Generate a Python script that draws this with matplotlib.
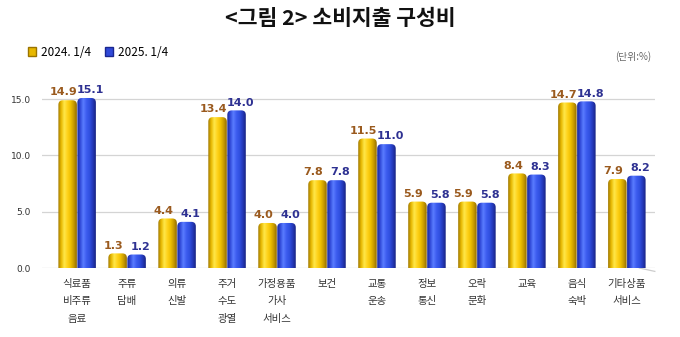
import numpy as np
import matplotlib
matplotlib.use('Agg')
import matplotlib.pyplot as plt
from matplotlib.patches import FancyBboxPatch, Patch
from matplotlib.colors import LinearSegmentedColormap

plt.rcParams['font.family'] = ['Noto Sans CJK KR', 'DejaVu Sans']

# data
categories = ['식료품\n비주류\n음료', '주류\n담배', '의류\n신발', '주거\n수도\n광열',
              '가정용품\n가사\n서비스', '보건', '교통\n운송', '정보\n통신',
              '오락\n문화', '교육', '음식\n숙박', '기타상품\n서비스']
q2024 = [14.9, 1.3, 4.4, 13.4, 4.0, 7.8, 11.5, 5.9, 5.9, 8.4, 14.7, 7.9]
q2025 = [15.1, 1.2, 4.1, 14.0, 4.0, 7.8, 11.0, 5.8, 5.8, 8.3, 14.8, 8.2]
series_names = ['2024. 1/4', '2025. 1/4']
yticks = [0, 5, 10, 15]

gold_cmap = LinearSegmentedColormap.from_list(
    'gold', ['#9a7400', '#e8b800', '#ffe84a', '#ffd21a', '#f0c000', '#c79a00', '#8f6a00'])
blue_cmap = LinearSegmentedColormap.from_list(
    'blue', ['#1a2790', '#3049d8', '#5a7dff', '#3d5cf0', '#3050e0', '#2438b8', '#17237f'])
label_colors = ['#9a5a1e', '#2e3192']

fig = plt.figure(figsize=(6.8, 3.37), dpi=100)
ax = fig.add_axes([0.062, 0.2047, 0.901, 0.558])
ax.set_xlim(-0.7, 11.56)
ax.set_ylim(0, 16.7)

w = 0.37
off = 0.19
aspect = (50 / 11.27)
grad = np.linspace(0, 1, 256).reshape(1, -1)

x = np.arange(len(categories))
for vals, dx, cmap, lc, lo in [(q2024, -off, gold_cmap, label_colors[0], -0.08),
                               (q2025, off, blue_cmap, label_colors[1], 0.08)]:
    for xi, v in zip(x, vals):
        left = xi + dx - w / 2
        patch = FancyBboxPatch((left, -1), w, v + 1,
                               boxstyle='round,pad=0,rounding_size=0.09',
                               mutation_aspect=aspect, facecolor='none',
                               edgecolor='none', zorder=3)
        ax.add_patch(patch)
        im = ax.imshow(grad, cmap=cmap, aspect='auto', extent=(left, left + w, -1, v),
                       zorder=3, interpolation='bilinear')
        im.set_clip_path(patch)
        ax.text(xi + dx + lo, v + 0.25, f'{v:.1f}', ha='center', va='bottom',
                fontsize=8, fontweight='bold', color=lc, family='DejaVu Sans')

for t in yticks:
    ax.axhline(t, color='#d4d4d4', lw=0.9, zorder=1)

# 3D floor edge at the right end of the base line
ax.plot([11.25, 11.56], [0, -0.3], color='#cccccc', lw=0.9, clip_on=False, zorder=1)

ax.set_yticks(yticks)
ax.set_yticklabels([f'{t:.1f}' for t in yticks], fontsize=6.5, color='#333333',
                   family='DejaVu Sans')
ax.set_xticks(x)
ax.set_xticklabels(categories, fontsize=7.5, color='#333333', linespacing=1.9, va='top')
ax.tick_params(axis='both', length=0)
ax.tick_params(axis='x', pad=8)
ax.tick_params(axis='y', pad=8)
for s in ax.spines.values():
    s.set_visible(False)

fig.text(0.5, 0.945, '<그림 2> 소비지출 구성비', ha='center', va='center',
         fontsize=15.5, fontweight='bold', color='#111111')
fig.text(0.957, 0.833, '(단위:%)', ha='right', va='center', fontsize=7, color='#666666')

handles = [Patch(facecolor='#e8b800', edgecolor='#9a7400'),
           Patch(facecolor='#3049d8', edgecolor='#1a2790')]
fig.legend(handles, series_names, loc='center left', bbox_to_anchor=(0.025, 0.845),
           ncol=2, frameon=False, fontsize=8.5, handlelength=0.7, handleheight=0.7,
           handletextpad=0.4, columnspacing=1.2)

fig.savefig('out.png', dpi=100)
